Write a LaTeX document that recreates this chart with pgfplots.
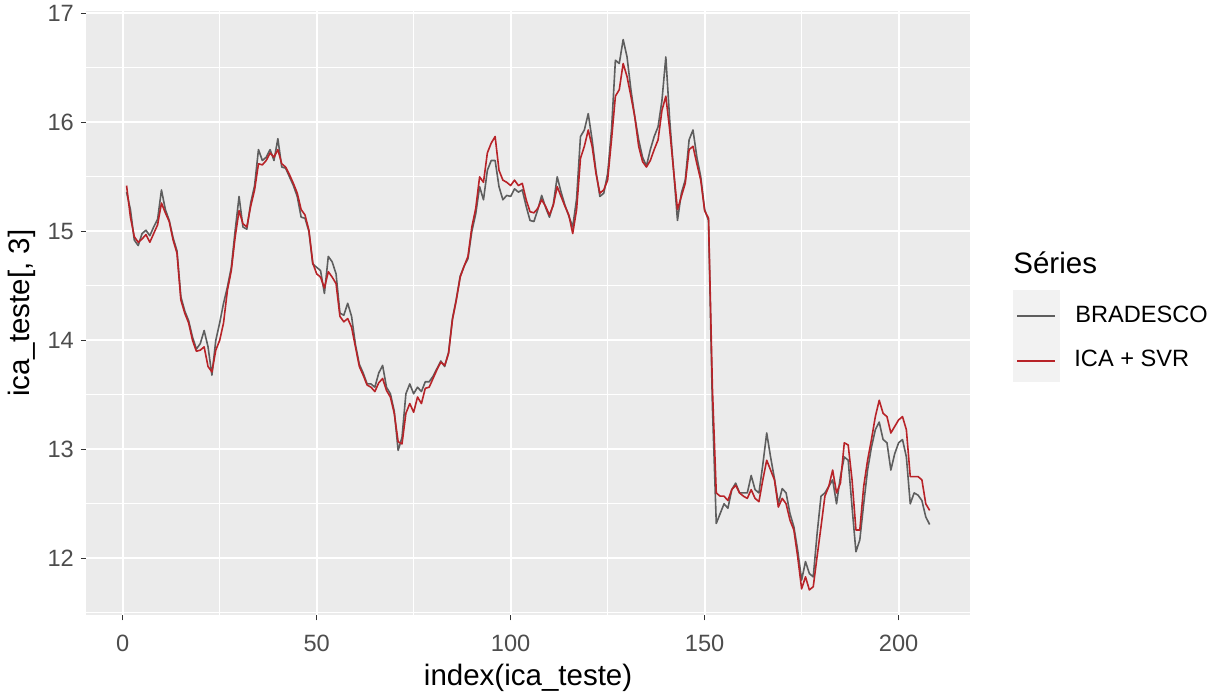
\documentclass[border=0pt]{standalone}
\usepackage{fontspec}
\setmainfont{Liberation Sans}
\usepackage{pgfplots}
\usepackage{pgfplotstable}
\pgfplotsset{compat=1.18}
\definecolor{panelgray}{HTML}{EBEBEB}
\definecolor{keygray}{HTML}{F2F2F2}
\definecolor{seriesgray}{HTML}{5E5E5E}
\definecolor{seriesred}{HTML}{B82328}
\definecolor{tickgray}{HTML}{333333}
\definecolor{labelgray}{HTML}{4D4D4D}

\pgfplotstableread{
x R G
1 15.42 15.36
2 15.13 15.20
3 14.95 14.92
4 14.90 14.87
5 14.93 14.98
6 14.97 15.01
7 14.90 14.96
8 14.98 15.04
9 15.06 15.11
10 15.26 15.38
11 15.17 15.20
12 15.09 15.10
13 14.92 14.94
14 14.80 14.82
15 14.37 14.40
16 14.25 14.27
17 14.16 14.18
18 14.00 14.03
19 13.90 13.92
20 13.91 13.97
21 13.94 14.09
22 13.76 13.94
23 13.71 13.68
24 13.91 14.00
25 14.00 14.16
26 14.16 14.34
27 14.46 14.49
28 14.64 14.67
29 14.95 15.01
30 15.19 15.32
31 15.07 15.04
32 15.04 15.02
33 15.23 15.26
34 15.38 15.42
35 15.62 15.75
36 15.61 15.65
37 15.65 15.68
38 15.72 15.75
39 15.68 15.65
40 15.75 15.85
41 15.62 15.59
42 15.59 15.58
43 15.52 15.50
44 15.44 15.42
45 15.35 15.32
46 15.20 15.13
47 15.15 15.12
48 15.01 15.00
49 14.71 14.70
50 14.61 14.67
51 14.58 14.64
52 14.48 14.43
53 14.63 14.77
54 14.58 14.72
55 14.52 14.61
56 14.22 14.25
57 14.17 14.23
58 14.20 14.34
59 14.12 14.22
60 13.94 13.96
61 13.76 13.78
62 13.68 13.70
63 13.59 13.60
64 13.57 13.60
65 13.53 13.57
66 13.61 13.70
67 13.65 13.77
68 13.54 13.57
69 13.48 13.51
70 13.33 13.35
71 13.07 12.99
72 13.05 13.11
73 13.33 13.51
74 13.42 13.60
75 13.34 13.51
76 13.48 13.57
77 13.42 13.53
78 13.56 13.62
79 13.57 13.62
80 13.65 13.67
81 13.73 13.74
82 13.80 13.81
83 13.77 13.76
84 13.88 13.89
85 14.19 14.20
86 14.37 14.38
87 14.58 14.59
88 14.68 14.68
89 14.77 14.75
90 15.04 15.00
91 15.21 15.16
92 15.50 15.41
93 15.45 15.29
94 15.72 15.56
95 15.81 15.65
96 15.87 15.65
97 15.56 15.41
98 15.47 15.29
99 15.45 15.33
100 15.42 15.32
101 15.47 15.39
102 15.42 15.36
103 15.44 15.38
104 15.29 15.23
105 15.18 15.10
106 15.17 15.09
107 15.21 15.20
108 15.29 15.33
109 15.23 15.22
110 15.15 15.13
111 15.24 15.25
112 15.41 15.50
113 15.32 15.36
114 15.23 15.24
115 15.15 15.14
116 14.98 15.04
117 15.20 15.30
118 15.67 15.87
119 15.78 15.93
120 15.93 16.08
121 15.78 15.84
122 15.53 15.55
123 15.35 15.32
124 15.38 15.35
125 15.47 15.53
126 15.84 15.93
127 16.24 16.57
128 16.30 16.54
129 16.54 16.76
130 16.42 16.60
131 16.24 16.30
132 16.05 16.05
133 15.78 15.84
134 15.64 15.68
135 15.59 15.60
136 15.65 15.75
137 15.75 15.87
138 15.84 15.96
139 16.11 16.20
140 16.24 16.60
141 15.93 16.02
142 15.56 15.56
143 15.20 15.10
144 15.32 15.35
145 15.44 15.47
146 15.75 15.84
147 15.78 15.93
148 15.62 15.68
149 15.47 15.50
150 15.19 15.20
151 15.12 15.10
152 13.57 13.40
153 12.60 12.32
154 12.57 12.41
155 12.57 12.50
156 12.53 12.46
157 12.63 12.63
158 12.67 12.69
159 12.60 12.60
160 12.57 12.60
161 12.55 12.60
162 12.63 12.76
163 12.55 12.63
164 12.52 12.60
165 12.72 12.86
166 12.90 13.15
167 12.81 12.93
168 12.72 12.73
169 12.47 12.50
170 12.55 12.64
171 12.50 12.60
172 12.35 12.41
173 12.26 12.29
174 12.01 12.07
175 11.72 11.80
176 11.83 11.97
177 11.71 11.86
178 11.74 11.83
179 12.02 12.23
180 12.29 12.57
181 12.57 12.60
182 12.66 12.66
183 12.81 12.72
184 12.60 12.50
185 12.69 12.75
186 13.06 12.93
187 13.04 12.90
188 12.72 12.47
189 12.26 12.06
190 12.26 12.17
191 12.66 12.50
192 12.90 12.81
193 13.09 13.02
194 13.30 13.18
195 13.45 13.25
196 13.33 13.09
197 13.30 13.06
198 13.15 12.81
199 13.21 12.96
200 13.27 13.06
201 13.30 13.09
202 13.18 12.93
203 12.75 12.50
204 12.75 12.60
205 12.75 12.58
206 12.72 12.53
207 12.50 12.38
208 12.44 12.31
}\datatable

\begin{document}
\begin{tikzpicture}
\begin{axis}[
  scale only axis, width=441.7pt, height=301.9pt,
  xmin=-9.35, xmax=218.35, ymin=11.48, ymax=17.02,
  xtick={0,50,...,200}, ytick={12,13,...,17},
  minor xtick={25,75,125,175}, minor ytick={11.5,12.5,...,16.5},
  grid=both,
  major grid style={white, line width=1.1pt},
  minor grid style={white, line width=0.55pt},
  axis background/.style={fill=panelgray},
  axis line style={draw=none},
  tick align=outside, major tick length=2.75pt, minor tick length=0pt,
  tick style={color=tickgray, line width=0.55pt},
  xtick pos=bottom, ytick pos=left,
  /pgf/number format/assume math mode=true,
  ticklabel style={font=\fontsize{11.8}{14}\selectfont, text=labelgray},
  xticklabel style={yshift=-3.5pt},
  label style={font=\fontsize{14.75}{17}\selectfont},
  xlabel={index(ica\_teste)}, ylabel={ica\_teste[, 3]},
  xlabel style={at={([yshift=-31.5pt]axis description cs:0.5,0)}, anchor=center},
  ylabel style={at={([xshift=-32.2pt]axis description cs:0,0.5)}, anchor=center},
]
\addplot[seriesgray, line width=0.8pt, line join=round] table[x=x, y=G]{\datatable};
\addplot[seriesred, line width=0.8pt, line join=round] table[x=x, y=R]{\datatable};
\end{axis}
\begin{scope}[shift={(current axis.south west)}, xshift=-43.2pt, yshift=307.5pt, x=0.5pt, y=-0.5pt]
  \fill[keygray] (1013,290) rectangle (1060,382);
  \draw[seriesgray, line width=0.8pt] (1017,316) -- (1055,316);
  \draw[seriesred, line width=0.8pt] (1017,361) -- (1055,361);
  \node[anchor=mid west, inner sep=0, font=\fontsize{11.8}{14}\selectfont] at (1075,317) {BRADESCO};
  \node[anchor=mid west, inner sep=0, font=\fontsize{11.8}{14}\selectfont] at (1074,361) {ICA + SVR};
  \node[anchor=mid west, inner sep=0, font=\fontsize{14.75}{17}\selectfont] at (1013,268) {Séries};
  \pgfresetboundingbox
  \path[use as bounding box] (0,0) rectangle (1221,695);
\end{scope}
\end{tikzpicture}
\end{document}
